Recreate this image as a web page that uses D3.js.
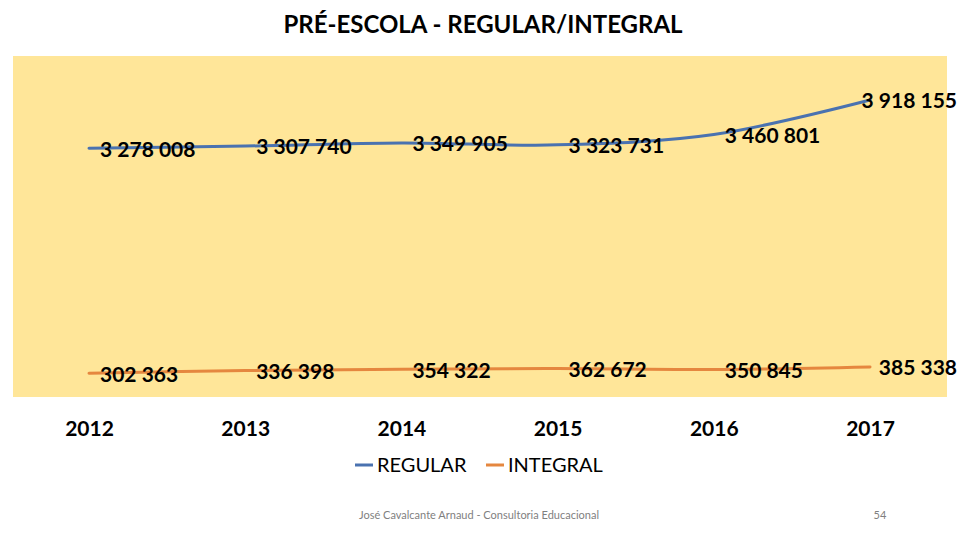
<!DOCTYPE html>
<html>
<head>
<meta charset="utf-8">
<script src="https://cdn.jsdelivr.net/npm/d3@7"></script>
<style>
  html, body { margin: 0; padding: 0; background: #ffffff; }
  svg { display: block; }
</style>
</head>
<body>
<svg id="chart" width="960" height="540"></svg>
<script>
const years = ["2012", "2013", "2014", "2015", "2016", "2017"];
const regular = [3278008, 3307740, 3349905, 3323731, 3460801, 3918155];
const integral = [302363, 336398, 354322, 362672, 350845, 385338];
const seriesNames = ["REGULAR", "INTEGRAL"];
const seriesColors = ["#4A72B0", "#E5873F"];
const titleText = "PRÉ-ESCOLA - REGULAR/INTEGRAL";
const footerText = "José Cavalcante Arnaud - Consultoria Educacional";
const pageNumber = "54";

const fmt = v => d3.format(",")(v).replace(/,/g, " ");

const svg = d3.select("#chart");
const plot = { left: 13, right: 947, top: 56, bottom: 397 };
const FONT = "Lato, 'Open Sans', sans-serif";

// title
svg.append("text")
  .attr("x", 483).attr("y", 33)
  .attr("text-anchor", "middle")
  .attr("font-family", FONT)
  .attr("font-weight", "bold")
  .attr("font-size", 24)
  .attr("fill", "#000")
  .text(titleText);

// plot background
svg.append("rect")
  .attr("x", plot.left).attr("y", plot.top)
  .attr("width", plot.right - plot.left)
  .attr("height", plot.bottom - plot.top)
  .attr("fill", "#FFE699");

const x = d3.scalePoint().domain(years).range([89, 870]);
const y = d3.scaleLinear().domain([0, 4500000]).range([396, 56]);

// x axis labels
const xAxis = d3.axisBottom(x).tickSize(0).tickPadding(0);
const gx = svg.append("g").attr("transform", "translate(0,420)").call(xAxis);
gx.select(".domain").remove();
gx.selectAll("text")
  .attr("font-family", FONT)
  .attr("font-weight", "bold")
  .attr("font-size", 21)
  .attr("fill", "#000")
  .attr("dy", "0.75em");

const series = [regular, integral];
const line = d3.line()
  .x((d, i) => x(years[i]))
  .y(d => y(d))
  .curve(d3.curveCatmullRom.alpha(0.5));

series.forEach((vals, si) => {
  svg.append("path")
    .datum(vals)
    .attr("d", line)
    .attr("fill", "none")
    .attr("stroke", seriesColors[si])
    .attr("stroke-width", 3)
    .attr("stroke-linecap", "round");
});

// data labels
series.forEach((vals, si) => {
  const g = svg.append("g");
  g.selectAll("text")
    .data(vals)
    .join("text")
    .attr("x", (d, i) => x(years[i]) + 11)
    .attr("y", d => y(d) + 3)
    .attr("dominant-baseline", "middle")
    .attr("font-family", FONT)
    .attr("font-weight", "bold")
    .attr("font-size", 21)
    .attr("fill", "#000")
    .text(d => fmt(d))
    .each(function () {
      const w = this.getComputedTextLength();
      const xx = +this.getAttribute("x");
      if (xx + w > 957) this.setAttribute("x", 957 - w);
    });
});

// legend
const legend = svg.append("g");
const legendItems = [
  { name: seriesNames[0], color: seriesColors[0], x: 355 },
  { name: seriesNames[1], color: seriesColors[1], x: 486 }
];
legendItems.forEach(it => {
  legend.append("line")
    .attr("x1", it.x).attr("x2", it.x + 18)
    .attr("y1", 465).attr("y2", 465)
    .attr("stroke", it.color).attr("stroke-width", 3);
  legend.append("text")
    .attr("x", it.x + 22).attr("y", 472)
    .attr("font-family", FONT)
    .attr("font-size", 20)
    .attr("fill", "#000")
    .text(it.name);
});

// footer
svg.append("text")
  .attr("x", 479).attr("y", 519)
  .attr("text-anchor", "middle")
  .attr("font-family", FONT)
  .attr("font-size", 11)
  .attr("fill", "#7f7f7f")
  .text(footerText);

svg.append("text")
  .attr("x", 880).attr("y", 519)
  .attr("text-anchor", "middle")
  .attr("font-family", FONT)
  .attr("font-size", 11)
  .attr("fill", "#7f7f7f")
  .text(pageNumber);
</script>
</body>
</html>
